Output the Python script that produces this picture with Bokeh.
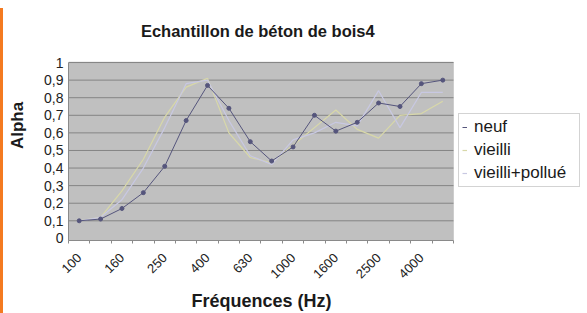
import math
from bokeh.plotting import figure
from bokeh.models import (Range1d, FixedTicker, Legend, LegendItem, Div, CustomJSTickFormatter,
                          BoxAnnotation, Title, Spacer, Label)
from bokeh.layouts import row, column
from bokeh.embed import file_html
from bokeh.resources import INLINE

freqs = ["100", "125", "160", "200", "250", "315", "400", "500", "630", "800",
         "1000", "1250", "1600", "2000", "2500", "3150", "4000", "5000"]
neuf = [0.10, 0.11, 0.17, 0.26, 0.41, 0.67, 0.87, 0.74, 0.55, 0.44,
        0.52, 0.70, 0.61, 0.66, 0.77, 0.75, 0.88, 0.90]
vieilli = [0.10, 0.12, 0.27, 0.45, 0.69, 0.86, 0.91, 0.60, 0.46, 0.43,
           0.53, 0.63, 0.73, 0.62, 0.57, 0.70, 0.71, 0.78]
vieilli_pollue = [0.10, 0.12, 0.22, 0.40, 0.63, 0.88, 0.90, 0.67, 0.47, 0.42,
                  0.56, 0.60, 0.66, 0.64, 0.84, 0.63, 0.83, 0.83]
y_ticks = [0.0, 0.1, 0.2, 0.3, 0.4, 0.5, 0.6, 0.7, 0.8, 0.9, 1.0]
series_names = ["neuf", "vieilli", "vieilli+pollué"]
title_text = "Echantillon de béton de bois4"

FONT = "Liberation Sans"
n = len(freqs)
x = list(range(n))
x_lo, x_hi = -0.5, n - 0.5
y_lo, y_hi = -0.012, 1.003

# frame spans the plot area plus the title zone above and the legend zone on the right
p = figure(width=584, height=313, output_backend="svg", toolbar_location=None,
           x_range=Range1d(x_lo, 23.44), y_range=Range1d(y_lo, 1.296),
           min_border_left=65, min_border_right=7, min_border_top=10, min_border_bottom=71,
           background_fill_color="white", border_fill_color="white",
           outline_line_color=None)
p.title.visible = False

# grey plot area
plot_area = BoxAnnotation(left=x_lo, right=x_hi, bottom=y_lo, top=y_hi,
                          fill_color="#c0c0c0", fill_alpha=1,
                          line_color="#9a9a9a", line_width=1, level="underlay")
p.add_layout(plot_area)

# chart title, centred over the plot area
p.add_layout(Label(x=(x_lo + x_hi) / 2 - 0.15, y=1.178, text=title_text,
                   text_align="center", text_baseline="middle",
                   text_font=FONT, text_font_size="16.5px", text_font_style="bold",
                   text_color="#1a1a1a"))

# horizontal grid lines limited to the plot area
p.xgrid.visible = False
p.ygrid.visible = False
p.segment(x0=[x_lo] * 10, y0=y_ticks[1:], x1=[x_hi] * 10, y1=y_ticks[1:],
          line_color="#848484", line_width=1)

# y axis
p.yaxis.bounds = (y_lo, y_hi)
p.yaxis.ticker = FixedTicker(ticks=y_ticks)
p.yaxis.formatter = CustomJSTickFormatter(code="""
const v = Math.round(tick * 10) / 10;
return v.toString().replace('.', ',');
""")
p.yaxis.axis_label = "Alpha"
p.yaxis.axis_label_text_font = FONT
p.yaxis.axis_label_text_font_size = "17px"
p.yaxis.axis_label_text_font_style = "bold"
p.yaxis.axis_label_text_color = "#1a1a1a"
p.yaxis.axis_label_standoff = 14
p.yaxis.major_label_text_font = FONT
p.yaxis.major_label_text_font_size = "14px"
p.yaxis.major_label_text_color = "#222222"
p.yaxis.major_label_standoff = 5
p.yaxis.major_tick_out = 0
p.yaxis.major_tick_in = 0
p.yaxis.minor_tick_line_color = None
p.yaxis.axis_line_color = "#8a8a8a"

# x axis
p.xaxis.bounds = (x_lo, x_hi)
p.xaxis.ticker = FixedTicker(ticks=x[::2], minor_ticks=[i - 0.5 for i in range(n + 1)])
p.xaxis.formatter = CustomJSTickFormatter(args=dict(labels=freqs),
                                          code="return labels[Math.round(tick)];")
p.xaxis.major_label_orientation = math.pi / 4
p.xaxis.major_label_text_font = FONT
p.xaxis.major_label_text_font_size = "13px"
p.xaxis.major_label_text_color = "#222222"
p.xaxis.major_label_standoff = 12
p.xaxis.major_tick_out = 0
p.xaxis.major_tick_in = 0
p.xaxis.minor_tick_in = 0
p.xaxis.minor_tick_out = 3
p.xaxis.minor_tick_line_color = "#8a8a8a"
p.xaxis.axis_line_color = "#8a8a8a"

xlabel = Title(text="Fréquences (Hz)", align="left", offset=123,
               text_font=FONT, text_font_size="18px", text_font_style="bold",
               text_color="#1a1a1a", standoff=6)
p.add_layout(xlabel, "below")

# series
r2 = p.line(x, vieilli, line_color="#d8d8a8", line_width=1.2)
r3 = p.line(x, vieilli_pollue, line_color="#c8c8e2", line_width=1.2)
r1 = p.line(x, neuf, line_color="#55557c", line_width=1)
m1 = p.scatter(x, neuf, size=4, color="#55557c")

legend = Legend(items=[LegendItem(label=series_names[0], renderers=[r1]),
                       LegendItem(label=series_names[1], renderers=[r2]),
                       LegendItem(label=series_names[2], renderers=[r3])],
                location=(390, 53))
legend.label_text_font = FONT
legend.label_text_font_size = "17px"
legend.label_text_color = "#1a1a1a"
legend.glyph_width = 5
legend.glyph_height = 20
legend.label_height = 20
legend.label_width = 102
legend.label_standoff = 7
legend.spacing = 3
legend.padding = 3
legend.margin = 0
legend.border_line_color = "#a8a8a8"
legend.background_fill_color = "white"
legend.background_fill_alpha = 1
p.add_layout(legend, "center")

bar = column(Spacer(width=3, height=8),
             Div(width=3, height=305, margin=0, styles={"background-color": "#f47a20"}))
layout = row(bar, p)

open("out.html", "w").write(file_html(layout, INLINE))
